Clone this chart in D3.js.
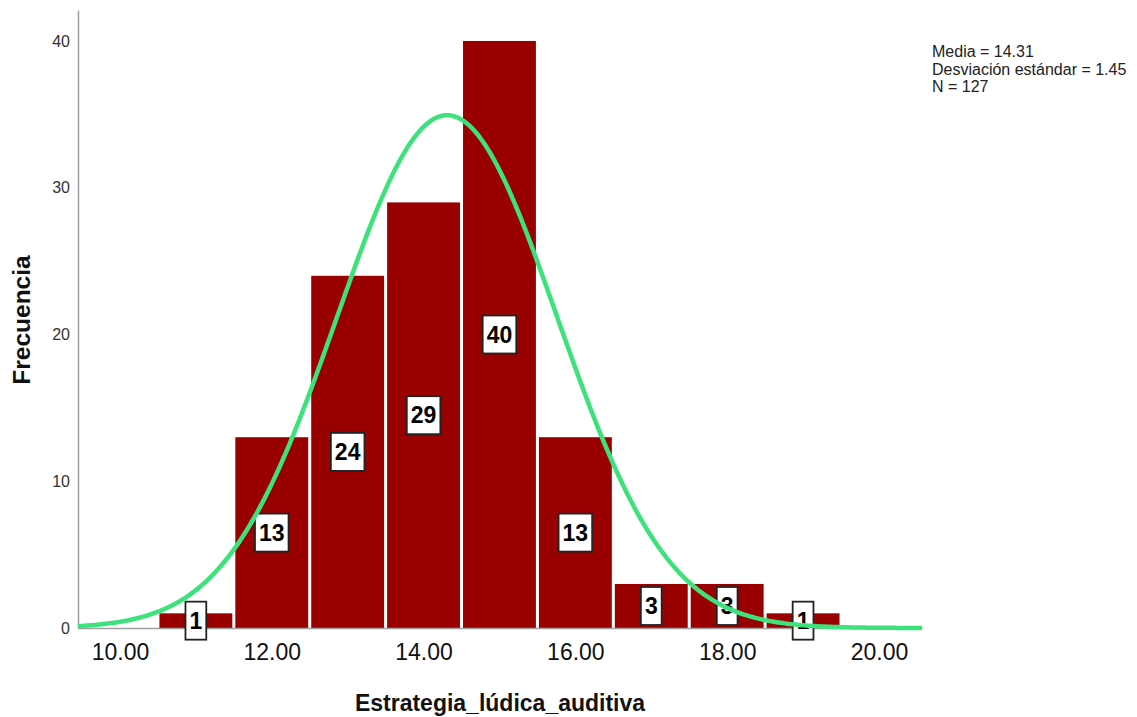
<!DOCTYPE html>
<html><head><meta charset="utf-8">
<script src="https://cdn.jsdelivr.net/npm/d3@7"></script>
<style>body{margin:0;background:#fff}svg{display:block}text{font-family:"Liberation Sans",Arial,sans-serif}</style>
</head><body>
<script>
const binCenters = [11, 12, 13, 14, 15, 16, 17, 18, 19];
const counts = [1, 13, 24, 29, 40, 13, 3, 3, 1];
const xTicks = [10, 12, 14, 16, 18, 20];
const yTicks = [0, 10, 20, 30, 40];
const statLines = ["Media = 14.31", "Desviación estándar = 1.45", "N = 127"];
const mean = 14.31, sd = 1.45, n = 127, binWidth = 1;

const W = 1137, H = 717;
const svg = d3.select("body").append("svg").attr("width", W).attr("height", H);
const x = d3.scaleLinear().domain([9.447, 20.567]).range([78, 922]);
const y = d3.scaleLinear().domain([0, 42.11]).range([628, 10]);

// bars
svg.append("g").selectAll("rect").data(binCenters).join("rect")
  .attr("x", (d) => x(d - binWidth / 2) + 1.5)
  .attr("width", (d) => x(d + binWidth / 2) - x(d - binWidth / 2) - 3)
  .attr("y", (d, i) => y(counts[i]))
  .attr("height", (d, i) => y(0) - y(counts[i]))
  .attr("fill", "#990000");

// axes
const yAxis = svg.append("g").attr("transform", `translate(${x.range()[0]},0)`)
  .call(d3.axisLeft(y).tickValues(yTicks).tickSize(0).tickPadding(8).tickFormat(d3.format("d")));
yAxis.select(".domain").attr("stroke", "#a0a0a0").attr("stroke-width", 1.5);
yAxis.selectAll("text").attr("font-size", 16).attr("fill", "#333");

const xAxis = svg.append("g").attr("transform", `translate(0,${y(0)})`)
  .call(d3.axisBottom(x).tickValues(xTicks).tickSize(0).tickPadding(16).tickFormat(d3.format(".2f")));
xAxis.select(".domain").attr("stroke", "#a0a0a0").attr("stroke-width", 1.5);
xAxis.selectAll("text").attr("font-size", 23).attr("fill", "#111");

// labels
const lab = svg.append("g").selectAll("g").data(binCenters).join("g")
  .attr("transform", (d, i) => `translate(${x(d)},${y(counts[i] / 2)})`);
lab.each(function (d, i) {
  const g = d3.select(this);
  const t = g.append("text").text(counts[i]).attr("text-anchor", "middle")
    .attr("dy", "0.36em").attr("font-size", 23).attr("font-weight", "bold").attr("fill", "#000");
  const w = t.node().getComputedTextLength();
  g.insert("rect", "text").attr("x", -w / 2 - 4).attr("width", w + 8)
    .attr("y", -19).attr("height", 38).attr("fill", "#fff")
    .attr("stroke", "#222").attr("stroke-width", 1.8);
});

// normal curve
const pts = d3.range(0, 401).map((k) => {
  const v = x.domain()[0] + (x.domain()[1] - x.domain()[0]) * k / 400;
  const z = (v - mean) / sd;
  return [v, n * binWidth * Math.exp(-0.5 * z * z) / (sd * Math.sqrt(2 * Math.PI))];
});
svg.append("path").datum(pts)
  .attr("d", d3.line().x((d) => x(d[0])).y((d) => y(d[1])))
  .attr("fill", "none").attr("stroke", "#3de27d").attr("stroke-width", 4.5);

// titles
svg.append("text").attr("x", 500).attr("y", 711).attr("text-anchor", "middle")
  .attr("font-size", 23).attr("font-weight", "bold").attr("fill", "#111")
  .text("Estrategia_lúdica_auditiva");
svg.append("text").attr("transform", "translate(30,320) rotate(-90)").attr("text-anchor", "middle")
  .attr("font-size", 24.5).attr("font-weight", "bold").attr("fill", "#111")
  .text("Frecuencia");

// stats
svg.append("g").selectAll("text").data(statLines).join("text")
  .attr("x", 932).attr("y", (d, i) => 57 + i * 17.5)
  .attr("font-size", 16).attr("fill", "#222").text((d) => d);
</script>
</body></html>
